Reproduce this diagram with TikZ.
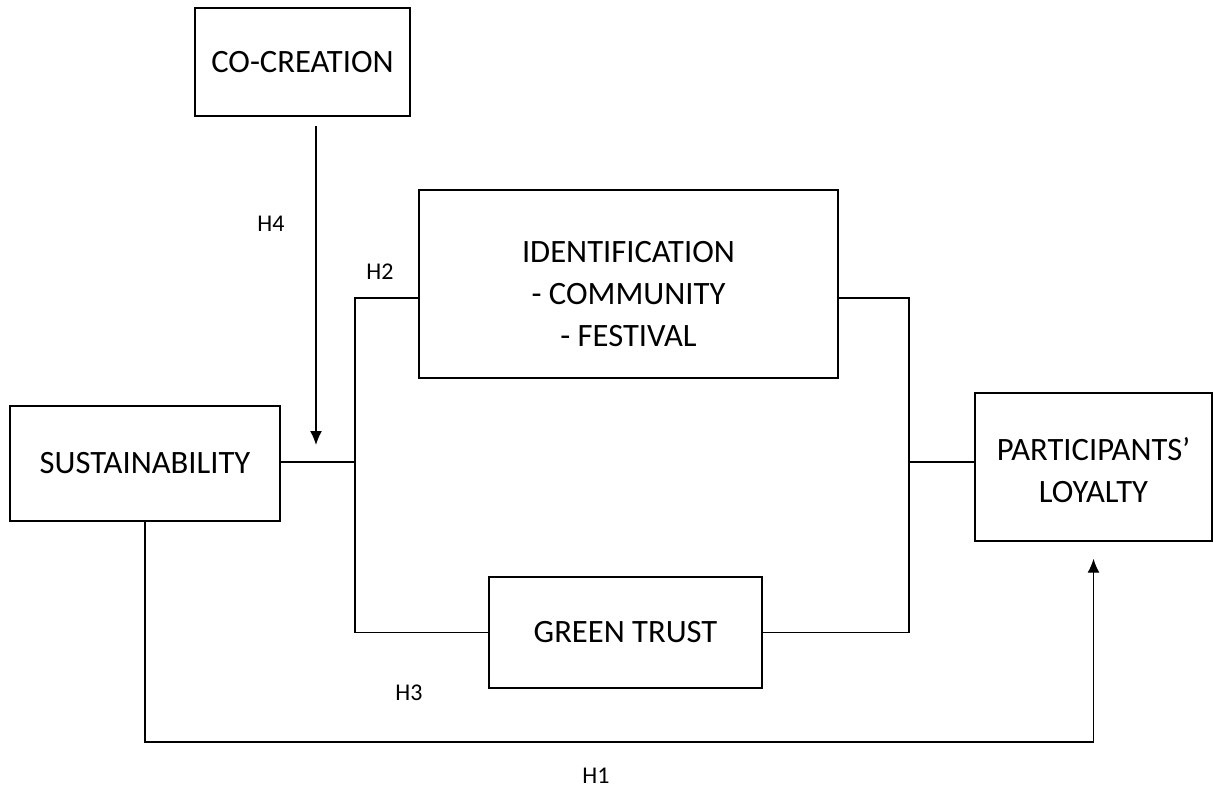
\documentclass[tikz,border=0pt]{standalone}
\usepackage{fontspec}
\setmainfont{Carlito}
\usetikzlibrary{arrows,arrows.meta,positioning}
\tikzset{font=\fontsize{16.3}{21}\selectfont}
\tikzset{box/.style={draw,line width=0.7pt,align=center,inner sep=0pt}}
\tikzset{hyp/.style={font=\fontsize{12}{14}\selectfont}}
\tikzset{arr/.style={-{Latex[length=7pt,width=6pt]}}}

\begin{document}
\begin{tikzpicture}[x=0.5pt,y=-0.5pt,line width=0.7pt]
  \useasboundingbox (0,0) rectangle (1213,794);
  % constructs
  \node[box,minimum width=107.5pt,minimum height=54pt] (cocreation) at (302.5,62) {CO-CREATION};
  \node[box,minimum width=135pt,minimum height=57.5pt] (sust) at (145,463.5) {SUSTAINABILITY};
  \node[box,minimum width=209.5pt,minimum height=94pt] (ident) at (628.5,284)
    {\parbox{150pt}{\centering\vspace*{10pt}IDENTIFICATION\\- COMMUNITY\\- FESTIVAL}};
  \node[box,minimum width=136.5pt,minimum height=55.5pt] (trust) at (625.5,632.5) {GREEN TRUST};
  \node[box,minimum width=118.5pt,minimum height=74pt] (loyalty) at (1093.5,467)
    {\parbox{110pt}{\centering\vspace*{3pt}PARTICIPANTS'\\LOYALTY}};
  % junctions
  \coordinate (lj) at (355,462);
  \coordinate (rj) at (909,462);
  \coordinate (mod) at (316,445);
  \coordinate (h1line) at (600,742);
  % paths
  \draw (sust.east |- lj) -- (lj);
  \draw ([yshift=-7pt]ident.west) -| (lj) |- (trust.west);
  \draw ([yshift=-7pt]ident.east) -| (rj) |- (trust.east);
  \draw (rj) -- (rj -| loyalty.west);
  \draw[arr] ([yshift=-4.5pt]cocreation.south -| mod) -- (mod);
  \draw[arr] (sust.south) |- (h1line) -| ([yshift=-8.5pt]loyalty.south);
  % hypotheses
  \node[hyp] (h4) at (271,224) {H4};
  \node[hyp] (h2) at (380,272) {H2};
  \node[hyp] (h3) at (409,693) {H3};
  \node[hyp] (h1) at (596,776) {H1};
\end{tikzpicture}
\end{document}
